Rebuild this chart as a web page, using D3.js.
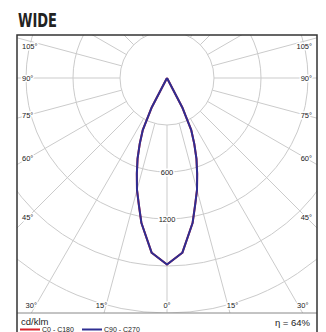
<!DOCTYPE html>
<head>
  <meta charset="utf-8">
  <script src="https://d3js.org/d3.v7.min.js"></script>
  <style>
    body { margin:0; background:#fff; }
    svg { display:block; }
  </style>
</head>
<body>
  <svg width="326" height="332"></svg>
  <script>
    // chart data
    var title = 'WIDE';
    var unitLabel = 'cd/klm';
    var efficiencyLabel = 'η = 64%';
    var beamAngles = [-30, -27.5, -25, -22.5, -20, -17.5, -15, -12.5, -10, -5, 0, 5, 10, 12.5, 15, 17.5, 20, 22.5, 25, 27.5, 30];
    var c0c180  = [0, 210, 365, 455, 550, 640, 740, 830, 940, 1120, 1190, 1120, 940, 830, 740, 640, 550, 455, 365, 210, 0];
    var c90c270 = [0, 210, 365, 455, 550, 640, 740, 830, 940, 1120, 1190, 1120, 940, 830, 740, 640, 550, 455, 365, 210, 0];
    var ringValues = [300, 600, 900, 1200, 1500];
    var ringLabels = ['', '600', '1200', '', ''];
    var gridAngles = [0, 15, 30, 45, 60, 75, 90, 105, 120, 135, 150, 165, 180];
    var angleTicks = [0, 15, 30, 45, 60, 75, 90, 105];
    var seriesNames = ['C0 - C180', 'C90 - C270'];
    var seriesColors = ['#d8232a', '#2e2e92'];

    var frame = {left: 17, right: 317, top: 35, bottom: 313};
    var cx = 167, cy = 78;

    var svg = d3.select('svg');
    var rad = d3.scaleLinear().domain([0, 1500]).range([0, 235]);
    var toRad = d => d * Math.PI / 180;

    // title
    svg.append('text')
      .attr('x', 18).attr('y', 27)
      .attr('font-family', '"Liberation Sans Narrow", "DejaVu Sans Condensed", "Liberation Sans", sans-serif')
      .attr('font-weight', 'bold')
      .attr('font-size', 19)
      .attr('fill', '#222')
      .attr('textLength', 39)
      .attr('lengthAdjust', 'spacingAndGlyphs')
      .text(title);

    svg.append('clipPath').attr('id', 'plot')
      .append('rect')
      .attr('x', frame.left).attr('y', frame.top)
      .attr('width', frame.right - frame.left).attr('height', frame.bottom - frame.top);

    var grid = svg.append('g').attr('clip-path', 'url(#plot)')
      .attr('stroke', '#cbcbcb').attr('fill', 'none').attr('stroke-width', 1);

    // rings
    grid.selectAll('circle').data(ringValues).enter().append('circle')
      .attr('cx', cx).attr('cy', cy).attr('r', d => rad(d));

    // radial lines on both sides, starting at the first ring
    var sides = [];
    gridAngles.forEach(a => { sides.push(a); if (a > 0 && a < 180) sides.push(-a); });
    grid.selectAll('line').data(sides).enter().append('line')
      .attr('x1', d => cx + rad(ringValues[0]) * Math.sin(toRad(d)))
      .attr('y1', d => cy + rad(ringValues[0]) * Math.cos(toRad(d)))
      .attr('x2', d => cx + 400 * Math.sin(toRad(d)))
      .attr('y2', d => cy + 400 * Math.cos(toRad(d)));

    // curves
    var line = d3.lineRadial()
      .angle(d => Math.PI - toRad(d[0]))
      .radius(d => rad(d[1]))
      .curve(d3.curveLinear);

    [c0c180, c90c270].forEach((vals, i) => {
      svg.append('path')
        .attr('transform', 'translate(' + [cx, cy] + ')')
        .attr('d', line(beamAngles.map((a, j) => [a, vals[j]])))
        .attr('fill', 'none')
        .attr('stroke', seriesColors[i])
        .attr('stroke-width', 2)
        .attr('stroke-linejoin', 'round');
    });

    var labelFont = '"Liberation Sans", Arial, sans-serif';

    // ring value labels
    svg.selectAll('.ringlab').data(ringValues.filter((d, i) => ringLabels[i])).enter().append('text')
      .attr('x', cx).attr('y', d => cy + rad(d))
      .attr('dy', '0.35em')
      .attr('text-anchor', 'middle')
      .attr('font-family', labelFont).attr('font-size', 7.5).attr('fill', '#222')
      .attr('stroke', '#fff').attr('stroke-width', 3).attr('paint-order', 'stroke')
      .text(d => ringLabels[ringValues.indexOf(d)]);

    // angle labels
    var angleLabs = [];
    angleTicks.forEach(a => {
      [-1, 1].forEach(s => {
        if (a === 0 && s === 1) return;
        var ta = Math.tan(toRad(a));
        var dxSide = (s < 0 ? cx - (frame.left + 11) : (frame.right - 11) - cx);
        var ySide = a === 90 ? cy : Math.max(frame.top + 11, cy + dxSide / ta);
        if (a >= 45) {
          angleLabs.push({a: a, x: s < 0 ? frame.left + 5 : frame.right - 5, y: ySide, anchor: s < 0 ? 'start' : 'end'});
        } else {
          var yb = 305;
          angleLabs.push({a: a, x: cx + s * (yb - cy) * ta + (a === 0 ? 0 : -s * 1), y: yb,
            anchor: a === 0 ? 'middle' : (s < 0 ? 'end' : 'start')});
        }
      });
    });
    svg.selectAll('.anglab').data(angleLabs).enter().append('text')
      .attr('x', d => d.x).attr('y', d => d.y)
      .attr('dy', '0.35em')
      .attr('text-anchor', d => d.anchor)
      .attr('font-family', labelFont).attr('font-size', 7.5).attr('fill', '#222')
      .attr('stroke', '#fff').attr('stroke-width', 3).attr('paint-order', 'stroke')
      .text(d => d.a + '°');

    // frame
    svg.append('line')
      .attr('x1', frame.left).attr('x2', frame.right)
      .attr('y1', frame.bottom).attr('y2', frame.bottom)
      .attr('stroke', '#888').attr('stroke-width', 1);
    svg.append('rect')
      .attr('x', frame.left).attr('y', frame.top)
      .attr('width', frame.right - frame.left).attr('height', 320)
      .attr('fill', 'none').attr('stroke', '#333').attr('stroke-width', 1.5);

    // legend
    svg.append('text')
      .attr('x', 21).attr('y', 325)
      .attr('font-family', labelFont).attr('font-size', 9.5).attr('fill', '#222')
      .text(unitLabel);
    var legX = [20, 82];
    seriesNames.forEach((n, i) => {
      svg.append('line')
        .attr('x1', legX[i]).attr('x2', legX[i] + 20)
        .attr('y1', 329.5).attr('y2', 329.5)
        .attr('stroke', seriesColors[i]).attr('stroke-width', 2);
      svg.append('text')
        .attr('x', legX[i] + 22).attr('y', 332)
        .attr('font-family', labelFont).attr('font-size', 7).attr('fill', '#222')
        .text(n);
    });
    svg.append('text')
      .attr('x', 310).attr('y', 326)
      .attr('text-anchor', 'end')
      .attr('font-family', labelFont).attr('font-size', 9.5).attr('fill', '#222')
      .text(efficiencyLabel);
  </script>
</body>
